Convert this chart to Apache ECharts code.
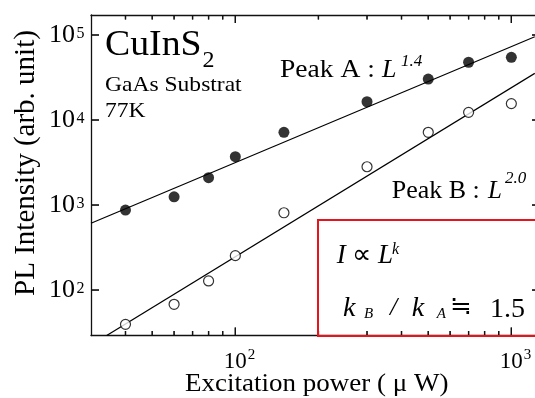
<!DOCTYPE html>
<html>
<head>
<meta charset="utf-8">
<script src="https://cdn.jsdelivr.net/npm/echarts@6/dist/echarts.min.js"></script>
<style>
  html, body { margin: 0; padding: 0; background: #fff; }
  #chart { width: 535px; height: 398px; }
</style>
</head>
<body>
<div id="chart"></div>
<script>
// excitation power (uW)
const power = [40, 60, 80, 100, 150, 300, 500, 700, 1000];
// PL intensity, peak A (filled dots) and peak B (open dots)
const peakA = [873, 1250, 2100, 3700, 7170, 16400, 30300, 47800, 54700];
const peakB = [39.5, 68, 128, 254, 811, 2820, 7170, 12300, 15600];
// fitted power-law lines, ends
const fitAPower = [30, 1216];
const fitA = [610, 95500];
const fitBPower = [34.2, 1216];
const fitB = [29.2, 35400];
// ticks
const xMajor = [100, 1000];
const xMinor = [40, 50, 60, 70, 80, 90, 200, 300, 400, 500, 600, 700, 800, 900];
const yMajor = [100, 1000, 10000, 100000];

const xMin = 30, xMax = 1270;
const yMin = 29.2, yMax = 171900;

const serif = '"Liberation Serif", "Times New Roman", serif';
const axisColor = '#111';

const chart = echarts.init(document.getElementById('chart'));

function expo(v) {
  return Math.round(Math.log10(v));
}

function axisOf(min, max, pos) {
  return {
    type: 'log', logBase: 10, min: min, max: max, position: pos,
    splitLine: { show: false },
    axisLine: { show: true, lineStyle: { color: axisColor, width: 1.3 } },
    axisTick: { show: false },
    axisLabel: { show: false }
  };
}

// inward ticks as thin filled rect symbols sitting on the axis edges
function tickSeries(values, side, len) {
  let data, size, offset;
  if (side === 'bottom') { data = values.map(v => [v, yMin]); size = [1.3, len]; offset = [0, -len / 2]; }
  if (side === 'top') { data = values.map(v => [v, yMax]); size = [1.3, len]; offset = [0, len / 2]; }
  if (side === 'left') { data = values.map(v => [xMin, v]); size = [len, 1.3]; offset = [len / 2, 0]; }
  if (side === 'right') { data = values.map(v => [xMax, v]); size = [len, 1.3]; offset = [-len / 2, 0]; }
  return {
    type: 'scatter', silent: true, clip: false, z: 20,
    symbol: 'rect', symbolSize: size, symbolOffset: offset,
    itemStyle: { color: axisColor },
    data: data
  };
}

// text pieces
function txt(x, y, text, size, italic, sx, align, valign) {
  return {
    type: 'text', x: x, y: y, z: 100, silent: true, scaleX: sx || 1,
    style: {
      text: text, fontFamily: serif, fontSize: size,
      fontStyle: italic ? 'italic' : 'normal',
      fill: '#000', align: align || 'left', verticalAlign: valign || 'top'
    }
  };
}

chart.setOption({
  backgroundColor: '#fff',
  animation: false,
  grid: { left: 91, top: 15, right: -5, bottom: 62.5, containLabel: false, outerBoundsMode: 'none' },
  xAxis: [axisOf(xMin, xMax, 'bottom'), axisOf(xMin, xMax, 'top')],
  yAxis: [axisOf(yMin, yMax, 'left'), axisOf(yMin, yMax, 'right')],
  series: [
    {
      type: 'line', silent: true, symbol: 'none', z: 2,
      data: fitAPower.map((p, i) => [p, fitA[i]]),
      lineStyle: { color: '#000', width: 1.2 }
    },
    {
      type: 'line', silent: true, symbol: 'none', z: 2,
      data: fitBPower.map((p, i) => [p, fitB[i]]),
      lineStyle: { color: '#000', width: 1.2 }
    },
    {
      type: 'scatter', z: 3, symbolSize: 11,
      data: power.map((p, i) => [p, peakA[i]]),
      itemStyle: { color: '#000' }
    },
    {
      type: 'scatter', z: 3, symbolSize: 10,
      data: power.map((p, i) => [p, peakB[i]]),
      itemStyle: { color: '#fff', borderColor: '#000', borderWidth: 1.2 }
    },
    tickSeries(xMajor, 'bottom', 8),
    tickSeries(xMinor, 'bottom', 4.5),
    tickSeries(xMajor, 'top', 8),
    tickSeries(xMinor, 'top', 4.5),
    tickSeries(yMajor, 'left', 8),
    tickSeries(yMajor, 'right', 8)
  ]
});

const elements = [];

// same ticks again as graphic lines, placed through the chart's scales
function addTicks(values, side, len) {
  values.forEach(v => {
    let p, dx = 0, dy = 0;
    if (side === 'bottom') { p = chart.convertToPixel({ gridIndex: 0 }, [v, yMin]); dy = -len; }
    if (side === 'top') { p = chart.convertToPixel({ gridIndex: 0 }, [v, yMax]); dy = len; }
    if (side === 'left') { p = chart.convertToPixel({ gridIndex: 0 }, [xMin, v]); dx = len; }
    if (side === 'right') { p = chart.convertToPixel({ gridIndex: 0 }, [xMax, v]); dx = -len; }
    elements.push({
      type: 'line', z: 50,
      shape: { x1: p[0], y1: p[1], x2: p[0] + dx, y2: p[1] + dy },
      style: { stroke: axisColor, lineWidth: 1.3 }
    });
  });
}
addTicks(xMajor, 'bottom', 8);
addTicks(xMinor, 'bottom', 4.5);
addTicks(xMajor, 'top', 8);
addTicks(xMinor, 'top', 4.5);
addTicks(yMajor, 'left', 8);
addTicks(yMajor, 'right', 8);

// power-of-ten tick labels
xMajor.forEach(v => {
  const p = chart.convertToPixel({ gridIndex: 0 }, [v, yMin]);
  elements.push(txt(p[0], p[1] + 26, '10', 23, false, 1, 'center', 'middle'));
  elements.push(txt(p[0] + 12.5, p[1] + 19.5, String(expo(v)), 15, false, 1, 'left', 'middle'));
});
yMajor.forEach(v => {
  const p = chart.convertToPixel({ gridIndex: 0 }, [xMin, v]);
  elements.push(txt(p[0] - 16, p[1], '10', 26, false, 1, 'right', 'middle'));
  elements.push(txt(p[0] - 14.5, p[1] - 1.5, String(expo(v)), 16, false, 1, 'left', 'middle'));
});

elements.push(
  {
    type: 'rect', z: 90, silent: true,
    shape: { x: 318, y: 220, width: 240, height: 116 },
    style: { fill: 'none', stroke: '#e8141c', lineWidth: 2 }
  },
  txt(105, 28, 'CuInS', 35, false, 1.08),
  txt(202.5, 48.6, '2', 24),
  txt(105, 74.3, 'GaAs Substrat', 22, false, 1.07),
  txt(105, 100.6, '77K', 22, false, 1.07),
  txt(280, 57.2, 'Peak A :', 26, false, 1.06),
  txt(382, 57.2, 'L', 26, true),
  txt(401, 53.3, '1.4', 17, true),
  txt(391.7, 179.1, 'Peak B :', 25, false, 1.04),
  txt(488, 179.1, 'L', 25, true),
  txt(505, 170.5, '2.0', 17, true),
  txt(336.7, 242.4, 'I', 27, true),
  txt(352, 242.4, '∝', 27),
  txt(378, 242.4, 'L', 27, true),
  txt(392, 241.6, 'k', 16, true),
  txt(343, 294.8, 'k', 28, true),
  txt(364, 306.4, 'B', 15, true),
  txt(390, 295, '/', 26, true),
  txt(411.7, 294.8, 'k', 28, true),
  txt(436.7, 306.4, 'A', 15, true),
  txt(450, 295, '≒', 26),
  txt(490, 295.6, '1.5', 28),
  txt(185, 372, 'Excitation power ( μ W)', 25, false, 1.08),
  {
    type: 'text', x: 26, y: 163, rotation: Math.PI / 2, z: 100, silent: true,
    style: {
      text: 'PL Intensity (arb. unit)', fontFamily: serif, fontSize: 29,
      fill: '#000', align: 'center', verticalAlign: 'middle'
    }
  }
);

chart.setOption({ graphic: elements });
</script>
</body>
</html>
